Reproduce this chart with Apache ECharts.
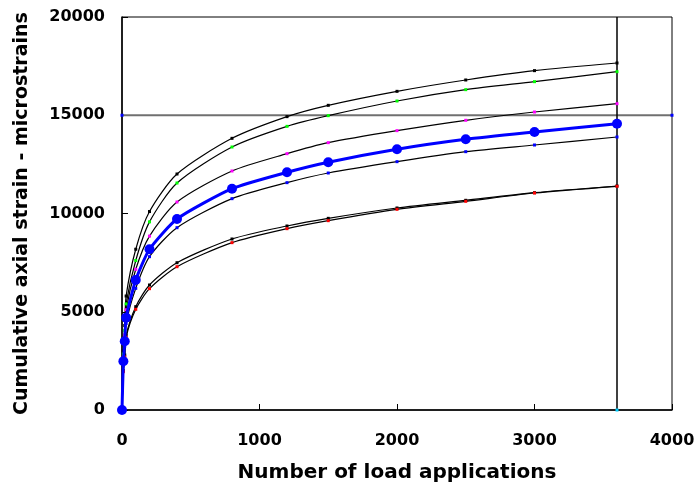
<!DOCTYPE html>
<html>
<head>
<meta charset="utf-8">
<script src="https://cdn.jsdelivr.net/npm/echarts@6/dist/echarts.min.js"></script>
<style>
  html, body { margin: 0; padding: 0; background: #fff; }
  #chart { width: 698px; height: 492px; }
</style>
</head>
<body>
<div id="chart"></div>
<script>
// load applications (x)
var loads = [0, 10, 20, 30, 100, 200, 400, 800, 1200, 1500, 2000, 2500, 3000, 3600];

// individual specimens
var specA = [0, 3000, 4300, 5800, 8180, 10100, 12010, 13825, 14930, 15505, 16217, 16794, 17270, 17659];
var specB = [0, 2850, 4050, 5400, 7610, 9575, 11552, 13384, 14436, 14979, 15725, 16302, 16709, 17218];
var specC = [0, 2700, 3800, 5100, 7160, 8850, 10585, 12163, 13045, 13605, 14216, 14743, 15165, 15588];
var specD = [0, 2300, 3250, 4400, 6190, 7803, 9278, 10755, 11570, 12061, 12638, 13146, 13486, 13893];
var specE = [0, 2000, 2800, 3800, 5258, 6361, 7496, 8702, 9364, 9754, 10280, 10671, 11060, 11400];
var specF = [0, 1950, 2700, 3700, 5123, 6175, 7293, 8516, 9228, 9635, 10213, 10620, 11043, 11384];

// mean curve
var average = [0, 2480, 3500, 4700, 6616, 8180, 9720, 11263, 12096, 12610, 13270, 13776, 14148, 14570];

// reference lines
var refStrain = 15000;
var refLoad = 3600;

var xTicks = [0, 1000, 2000, 3000, 4000];
var yTicks = [0, 5000, 10000, 15000, 20000];

function pairs(vals) {
  return loads.map(function (x, i) { return [x, vals[i]]; });
}

function thinSeries(vals, markColor) {
  return {
    type: "line",
    data: pairs(vals),
    smooth: 0.25,
    symbol: "rect",
    symbolSize: 3,
    itemStyle: { color: markColor },
    lineStyle: { color: "#000", width: 1.2 },
    z: 3
  };
}

var font = "DejaVu Sans, Verdana, sans-serif";

var chart = echarts.init(document.getElementById("chart"));
chart.setOption({
  animation: false,
  backgroundColor: "#fff",
  grid: { left: 122, right: 26, top: 17, bottom: 82, show: true, borderColor: "#000", borderWidth: 1 },
  xAxis: {
    type: "value",
    min: xTicks[0],
    max: xTicks[xTicks.length - 1],
    interval: 1000,
    name: "Number of load applications",
    nameLocation: "middle",
    nameGap: 53,
    nameTextStyle: { fontFamily: font, fontWeight: "bold", fontSize: 20, color: "#000" },
    axisLine: { lineStyle: { color: "#000", width: 1.5 } },
    axisTick: { inside: true, length: 6, lineStyle: { color: "#000" } },
    axisLabel: {
      margin: 23, fontFamily: font, fontWeight: "bold", fontSize: 16, color: "#000",
      formatter: function (v) { return String(v); }
    },
    splitLine: { show: false }
  },
  yAxis: {
    type: "value",
    min: yTicks[0],
    max: yTicks[yTicks.length - 1],
    interval: 5000,
    name: "Cumulative axial strain - microstrains",
    nameLocation: "middle",
    nameGap: 90,
    nameTextStyle: { fontFamily: font, fontWeight: "bold", fontSize: 19, color: "#000" },
    axisLine: { lineStyle: { color: "#000", width: 1.5 } },
    axisTick: { inside: true, length: 6, lineStyle: { color: "#000" } },
    axisLabel: {
      margin: 17, fontFamily: font, fontWeight: "bold", fontSize: 16, color: "#000",
      formatter: function (v) { return String(v); }
    },
    splitLine: { show: false }
  },
  series: [
    {
      type: "line",
      data: [[xTicks[0], refStrain], [xTicks[xTicks.length - 1], refStrain]],
      symbol: "rect",
      symbolSize: 3,
      itemStyle: { color: "#0000ff" },
      lineStyle: { color: "#707070", width: 2 },
      z: 2
    },
    {
      type: "line",
      data: [
        { value: [refLoad, yTicks[0]] },
        { value: [refLoad, yTicks[yTicks.length - 1]], symbol: "none" }
      ],
      symbol: "rect",
      symbolSize: 3,
      itemStyle: { color: "#00ccff" },
      lineStyle: { color: "#000", width: 1.5 },
      z: 2
    },
    thinSeries(specA, "#000000"),
    thinSeries(specB, "#00ff00"),
    thinSeries(specC, "#ff00ff"),
    thinSeries(specD, "#0000ff"),
    thinSeries(specE, "#000000"),
    thinSeries(specF, "#ff0000"),
    {
      type: "line",
      data: pairs(average),
      smooth: 0.2,
      symbol: "circle",
      symbolSize: 10,
      itemStyle: { color: "#0000ff" },
      lineStyle: { color: "#0000ff", width: 3 },
      z: 5
    }
  ]
});
</script>
</body>
</html>
